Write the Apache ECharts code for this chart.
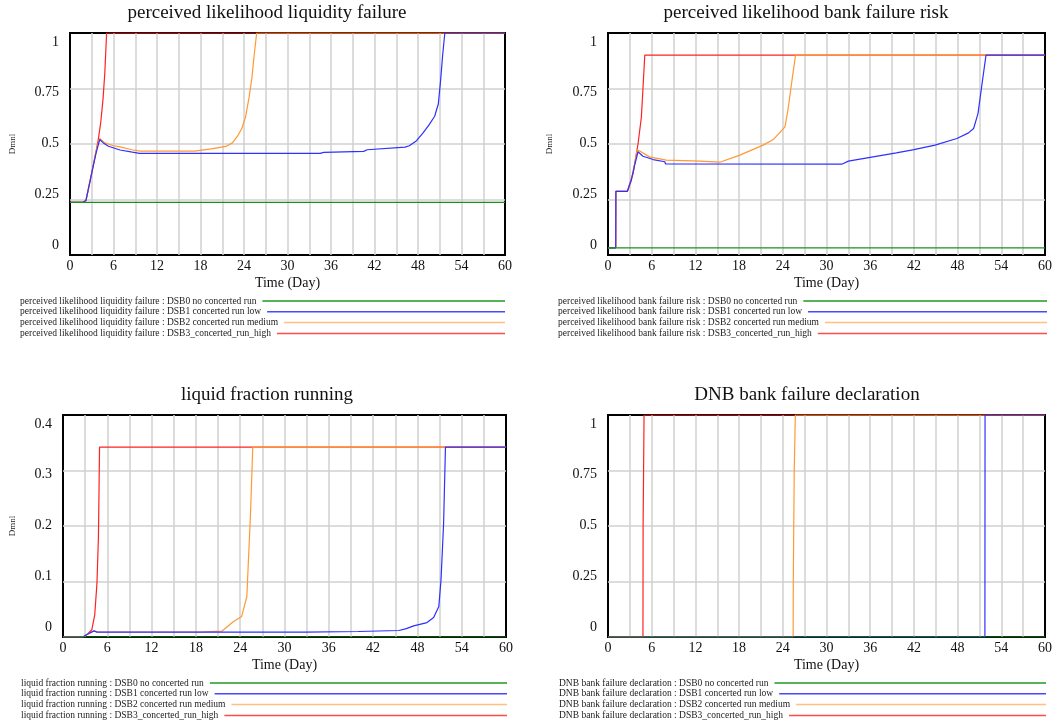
<!DOCTYPE html>
<html>
<head>
<meta charset="utf-8">
<title>Bank run scenarios</title>
<script src="https://cdn.jsdelivr.net/npm/echarts@6/dist/echarts.min.js"></script>
<style>
  html, body { margin: 0; padding: 0; background: #fff; }
  #chart { width: 1058px; height: 727px; }
</style>
</head>
<body>
<div id="chart"></div>
<script>
// scenario names and colours (DSB0..DSB3)
var runNames = ['DSB0 no concerted run', 'DSB1 concerted run low', 'DSB2 concerted run medium', 'DSB3_concerted_run_high'];
var runColors = ['#1a8f1a', '#2f2fff', '#ff9933', '#ff2222'];
var keyColors = ['#1f9a1f', '#4848ff', '#ffc080', '#ff4c4c'];

// tick labels
var unitTicks = ['0', '0.25', '0.5', '0.75', '1'];
var fracTicks = ['0', '0.1', '0.2', '0.3', '0.4'];

// perceived likelihood liquidity failure, [day, Dmnl]
var plfDSB0 = [[0, 0.237], [60, 0.237]];
var plfDSB1 = [[0, 0.237], [1.8, 0.237], [2.2, 0.245], [3, 0.37], [3.6, 0.46], [4.1, 0.52], [4.6, 0.505], [5.3, 0.49],
  [6.9, 0.473], [8.6, 0.463], [9.6, 0.458], [34.5, 0.458], [35, 0.462], [40.5, 0.467], [41, 0.474], [46.2, 0.486],
  [46.8, 0.492], [47.8, 0.515], [48.7, 0.55], [49.5, 0.585], [50.3, 0.625], [50.8, 0.68], [51.1, 0.78], [51.4, 0.9],
  [51.7, 1], [60, 1]];
var plfDSB2 = [[0, 0.237], [1.8, 0.237], [2.2, 0.245], [3, 0.37], [3.6, 0.47], [4.1, 0.525], [4.8, 0.505], [6, 0.492],
  [6.9, 0.487], [8.5, 0.474], [9.7, 0.468], [17.2, 0.468], [17.4, 0.474], [19.5, 0.478], [21.5, 0.489], [22.4, 0.505],
  [23.1, 0.535], [23.7, 0.57], [24.2, 0.62], [24.7, 0.71], [25.1, 0.8], [25.4, 0.9], [25.75, 1], [60, 1]];
var plfDSB3 = [[0, 0.237], [1.8, 0.237], [2.2, 0.245], [3, 0.37], [3.5, 0.45], [3.9, 0.52], [4.25, 0.6], [4.55, 0.7],
  [4.8, 0.82], [5.05, 1], [60, 1]];

// perceived likelihood bank failure risk
var pbfDSB0 = [[0, 0.032], [60, 0.032]];
var pbfDSB1 = [[0, 0.032], [1.06, 0.032], [1.08, 0.287], [2.66, 0.287], [3.2, 0.337], [3.7, 0.41], [4.12, 0.465],
  [4.8, 0.445], [6.2, 0.43], [7.8, 0.42], [7.9, 0.41], [32.1, 0.409], [33, 0.423], [36, 0.44], [39.6, 0.46], [42, 0.475],
  [44.9, 0.495], [47.9, 0.525], [49.5, 0.55], [50.2, 0.57], [50.8, 0.637], [51.3, 0.758], [51.9, 0.9], [60, 0.9]];
var pbfDSB2 = [[0, 0.032], [1.06, 0.032], [1.08, 0.287], [2.66, 0.287], [3.2, 0.337], [3.7, 0.42], [4.0, 0.475],
  [5.7, 0.442], [8, 0.427], [12.6, 0.423], [12.7, 0.418], [15.35, 0.418], [18.1, 0.45], [21.3, 0.495], [22.7, 0.52],
  [24.3, 0.577], [24.7, 0.652], [25.2, 0.772], [25.75, 0.9], [60, 0.9]];
var pbfDSB3 = [[0, 0.032], [1.06, 0.032], [1.08, 0.287], [2.66, 0.287], [3.44, 0.367], [4.12, 0.5], [4.58, 0.62],
  [4.75, 0.72], [5.05, 0.9], [60, 0.9]];

// liquid fraction running
var lfrDSB0 = [[0, 0], [60, 0]];
var lfrDSB1 = [[0, 0], [2.7, 0], [3.3, 0.005], [4.2, 0.011], [4.6, 0.0087], [32.8, 0.0087], [33, 0.0099], [40, 0.0099],
  [40.2, 0.0117], [45.5, 0.0117], [46.5, 0.015], [47.5, 0.02], [49.3, 0.026], [50.2, 0.035], [50.9, 0.055], [51.2, 0.103],
  [51.55, 0.205], [51.8, 0.342], [60, 0.342]];
var lfrDSB2 = [[0, 0], [2.7, 0], [3.3, 0.005], [4.2, 0.011], [4.6, 0.009], [18.6, 0.009], [18.7, 0.0105], [21.5, 0.0105],
  [23.1, 0.028], [24.2, 0.037], [24.9, 0.073], [25.4, 0.223], [25.7, 0.342], [60, 0.342]];
var lfrDSB3 = [[0, 0], [2.7, 0], [3.3, 0.005], [3.9, 0.013], [4.3, 0.04], [4.6, 0.097], [4.8, 0.181], [4.95, 0.342],
  [60, 0.342]];

// DNB bank failure declaration
var dnbDSB0 = [[0, 0], [60, 0]];
var dnbDSB1 = [[0, 0], [51.75, 0], [51.77, 1], [60, 1]];
var dnbDSB2 = [[0, 0], [25.42, 0], [25.44, 0.25], [25.55, 0.25], [25.57, 0.75], [25.7, 0.75], [25.72, 1], [60, 1]];
var dnbDSB3 = [[0, 0], [4.8, 0], [4.82, 0.5], [4.93, 0.5], [4.95, 1], [60, 1]];

(function() {
  var serif = '"Liberation Serif", "DejaVu Serif", serif';
  var ink = '#111';
  var gridGray = '#d0d0d0';

  var panels = [
    { title: 'perceived likelihood liquidity failure', runs: [plfDSB0, plfDSB1, plfDSB2, plfDSB3],
      rect: { left: 70, top: 33, width: 435, height: 222 }, yMax: 1, yStep: 0.25, ticks: unitTicks,
      titleX: 267, titleTop: 4, yName: 'Dmnl', yNameGap: 53, key: { x: 20, y: 301, right: 505 } },
    { title: 'perceived likelihood bank failure risk', runs: [pbfDSB0, pbfDSB1, pbfDSB2, pbfDSB3],
      rect: { left: 608, top: 33, width: 437, height: 222 }, yMax: 1, yStep: 0.25, ticks: unitTicks,
      titleX: 806, titleTop: 4, yName: 'Dmnl', yNameGap: 54, key: { x: 558, y: 301, right: 1047 } },
    { title: 'liquid fraction running', runs: [lfrDSB0, lfrDSB1, lfrDSB2, lfrDSB3],
      rect: { left: 63, top: 415, width: 443, height: 222 }, yMax: 0.4, yStep: 0.1, ticks: fracTicks,
      titleX: 267, titleTop: 386, yName: 'Dmnl', yNameGap: 46, key: { x: 21, y: 683, right: 507 } },
    { title: 'DNB bank failure declaration', runs: [dnbDSB0, dnbDSB1, dnbDSB2, dnbDSB3],
      rect: { left: 608, top: 415, width: 437, height: 222 }, yMax: 1, yStep: 0.25, ticks: unitTicks,
      titleX: 807, titleTop: 386, yName: '', yNameGap: 54, key: { x: 559, y: 683, right: 1046 } }
  ];

  // Vensim spreads the y labels a bit inside the box; shift them with rich padding
  function tickRich(ticks) {
    var rich = {};
    for (var i = 0; i < ticks.length; i++) {
      var off = 9 - 19 * (1 - i / (ticks.length - 1));
      var pad = off >= 0 ? [2 * off, 0, 0, 0] : [0, 0, -2 * off, 0];
      rich['p' + i] = { fontFamily: serif, fontSize: 14, color: ink, padding: pad };
    }
    return rich;
  }

  var measure = document.createElement('canvas').getContext('2d');
  var keyFont = '9.5px "Liberation Serif"';
  measure.font = keyFont;

  var title = [], grid = [], xAxis = [], yAxis = [], series = [], graphic = [];

  panels.forEach(function(p, i) {
    title.push({
      text: p.title, left: p.titleX, top: p.titleTop, textAlign: 'center', padding: 0,
      textStyle: { fontFamily: serif, fontSize: 19, fontWeight: 'normal', color: ink }
    });
    grid.push({
      left: p.rect.left, top: p.rect.top, width: p.rect.width, height: p.rect.height,
      show: true, borderColor: '#000', borderWidth: 2, backgroundColor: 'transparent'
    });
    xAxis.push({
      type: 'value', gridIndex: i, min: 0, max: 60, interval: 3,
      name: 'Time (Day)', nameLocation: 'middle', nameGap: 21,
      nameTextStyle: { fontFamily: serif, fontSize: 14, color: ink },
      axisLine: { show: false }, axisTick: { show: false },
      axisLabel: {
        fontFamily: serif, fontSize: 14, color: ink, margin: 4,
        showMinLabel: true, showMaxLabel: true,
        formatter: function(v) { return v % 6 === 0 ? String(v) : ''; }
      },
      splitLine: { show: true, showMinLine: false, showMaxLine: false, lineStyle: { color: gridGray, width: 1.5 } }
    });
    var ticks = p.ticks;
    yAxis.push({
      type: 'value', gridIndex: i, min: 0, max: p.yMax, interval: p.yStep,
      name: p.yName, nameLocation: 'middle', nameGap: p.yNameGap, nameRotate: 90,
      nameTextStyle: { fontFamily: serif, fontSize: 9, color: '#222' },
      axisLine: { show: false }, axisTick: { show: false },
      axisLabel: {
        margin: 11, fontFamily: serif, fontSize: 14, color: ink,
        showMinLabel: true, showMaxLabel: true,
        formatter: function(v) {
          var k = Math.round(v / p.yStep);
          return '{p' + k + '|' + ticks[k] + '}';
        },
        rich: tickRich(ticks)
      },
      splitLine: { show: true, showMinLine: false, showMaxLine: false, lineStyle: { color: gridGray, width: 1.5 } }
    });
    // draw DSB3 first so DSB0 ends up on top, as in the original
    for (var k = 3; k >= 0; k--) {
      series.push({
        name: runNames[k], type: 'line', xAxisIndex: i, yAxisIndex: i,
        data: p.runs[k], showSymbol: false, symbol: 'none',
        lineStyle: { color: runColors[k], width: 1.2 }, itemStyle: { color: runColors[k] }
      });
    }
    // Vensim-style key: label then a line running to the right edge
    for (var r = 0; r < 4; r++) {
      var label = p.title + ' : ' + runNames[r];
      var y = p.key.y + r * 10.8;
      var w = measure.measureText(label).width;
      graphic.push({
        type: 'text', x: p.key.x, y: y, silent: true,
        style: { text: label, font: keyFont, fill: '#222', verticalAlign: 'middle', align: 'left' }
      });
      graphic.push({
        type: 'line', silent: true,
        shape: { x1: p.key.x + w + 6, y1: y, x2: p.key.right, y2: y },
        style: { stroke: keyColors[r], lineWidth: 1.5 }
      });
    }
  });

  var chart = echarts.init(document.getElementById('chart'), null, { renderer: 'canvas' });
  chart.setOption({
    animation: false,
    backgroundColor: '#fff',
    title: title,
    grid: grid,
    xAxis: xAxis,
    yAxis: yAxis,
    series: series,
    graphic: graphic
  });
  window.addEventListener('resize', function() { chart.resize(); });
})();
</script>
</body>
</html>
